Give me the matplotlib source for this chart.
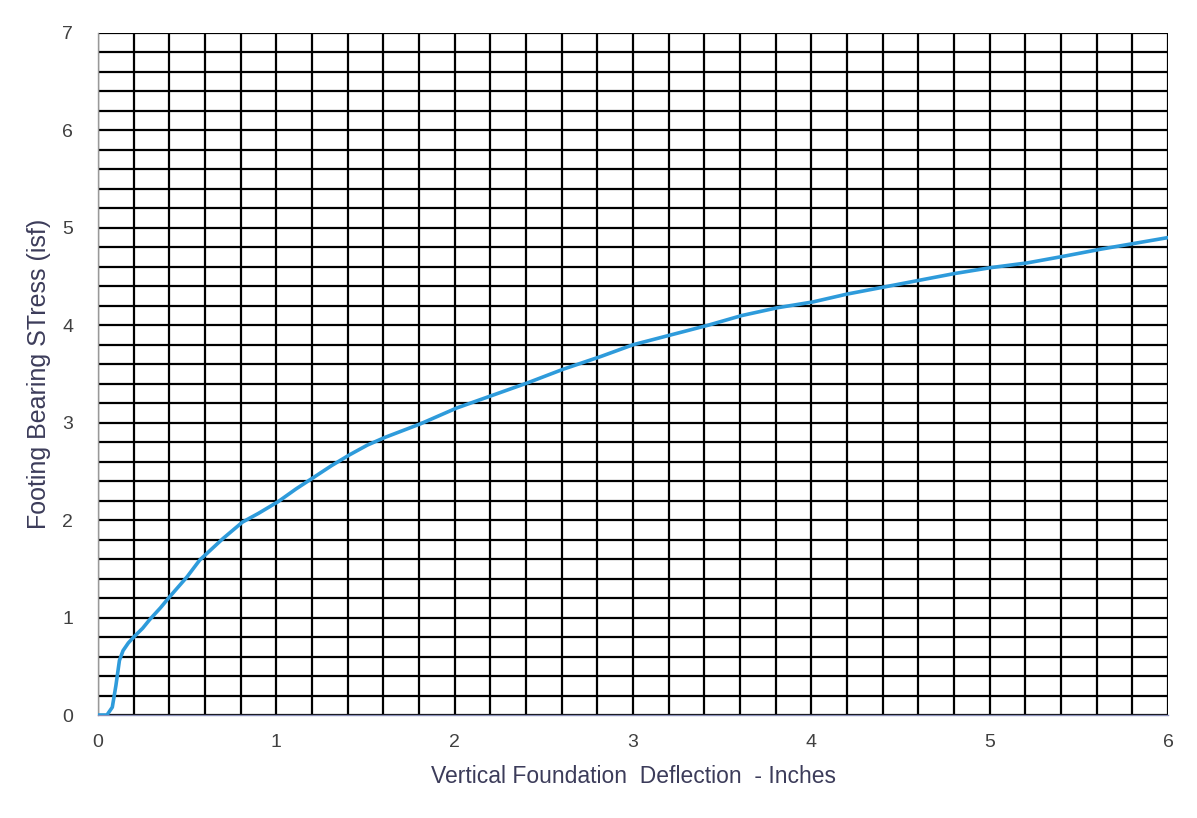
import numpy as np
import matplotlib
matplotlib.use("Agg")
import matplotlib.pyplot as plt
from matplotlib.ticker import MultipleLocator

# deflection (in) vs footing bearing stress
deflection = [0.0, 0.05, 0.08, 0.10, 0.12, 0.14, 0.17, 0.20, 0.25, 0.29,
              0.35, 0.40, 0.50, 0.57, 0.70, 0.81, 0.90, 1.01, 1.11, 1.21,
              1.31, 1.41, 1.51, 1.61, 1.71, 1.81, 1.91, 2.01, 2.21, 2.41,
              2.61, 2.82, 3.00, 3.21, 3.42, 3.61, 3.81, 4.01, 4.20, 4.40,
              4.60, 4.80, 5.00, 5.21, 5.42, 5.62, 5.81, 6.0]
stress = [0.0, 0.0, 0.08, 0.30, 0.56, 0.66, 0.74, 0.80, 0.89, 0.98,
          1.10, 1.21, 1.42, 1.59, 1.81, 1.98, 2.07, 2.19, 2.32, 2.44,
          2.56, 2.67, 2.77, 2.85, 2.92, 2.99, 3.07, 3.15, 3.28, 3.41,
          3.55, 3.68, 3.80, 3.90, 4.00, 4.10, 4.18, 4.24, 4.32, 4.39,
          4.46, 4.53, 4.59, 4.64, 4.71, 4.78, 4.84, 4.90]

x_ticks = [0, 1, 2, 3, 4, 5, 6]
y_ticks = [0, 1, 2, 3, 4, 5, 6, 7]

plt.rcParams["font.family"] = ["Liberation Sans", "DejaVu Sans"]

fig = plt.figure(figsize=(11.97, 8.18), dpi=100)
ax = fig.add_axes([0.0819, 0.1259, 0.8939, 0.8338])

ax.set_xlim(0, 6)
ax.set_ylim(0, 7)
ax.xaxis.set_minor_locator(MultipleLocator(0.2))
ax.yaxis.set_minor_locator(MultipleLocator(0.2))
ax.set_xticks(x_ticks)
ax.set_yticks(y_ticks)
ax.grid(True, which="both", color="black", lw=1.6)
ax.set_axisbelow(True)

ax.plot(deflection, stress, color="#2E9BDB", lw=2.6, solid_capstyle="round",
        solid_joinstyle="round", zorder=3)

for s in ["top", "right"]:
    ax.spines[s].set_visible(False)
ax.spines["left"].set_color("#999999")
ax.spines["bottom"].set_color("#8A8FB8")
ax.spines["left"].set_linewidth(1.0)
ax.spines["bottom"].set_linewidth(1.0)

ax.tick_params(which="both", length=0, labelsize=14, labelcolor="#404040")
ax.tick_params(axis="x", pad=14)
ax.tick_params(axis="y", pad=18)

ax.set_xlabel("Vertical Foundation  Deflection  - Inches", fontsize=16.5,
              color="#3C3C5A", labelpad=10)
ax.set_ylabel("Footing Bearing STress (isf)", fontsize=18,
              color="#3C3C5A", labelpad=8)

fig.savefig("out.png", dpi=100, facecolor="white")
